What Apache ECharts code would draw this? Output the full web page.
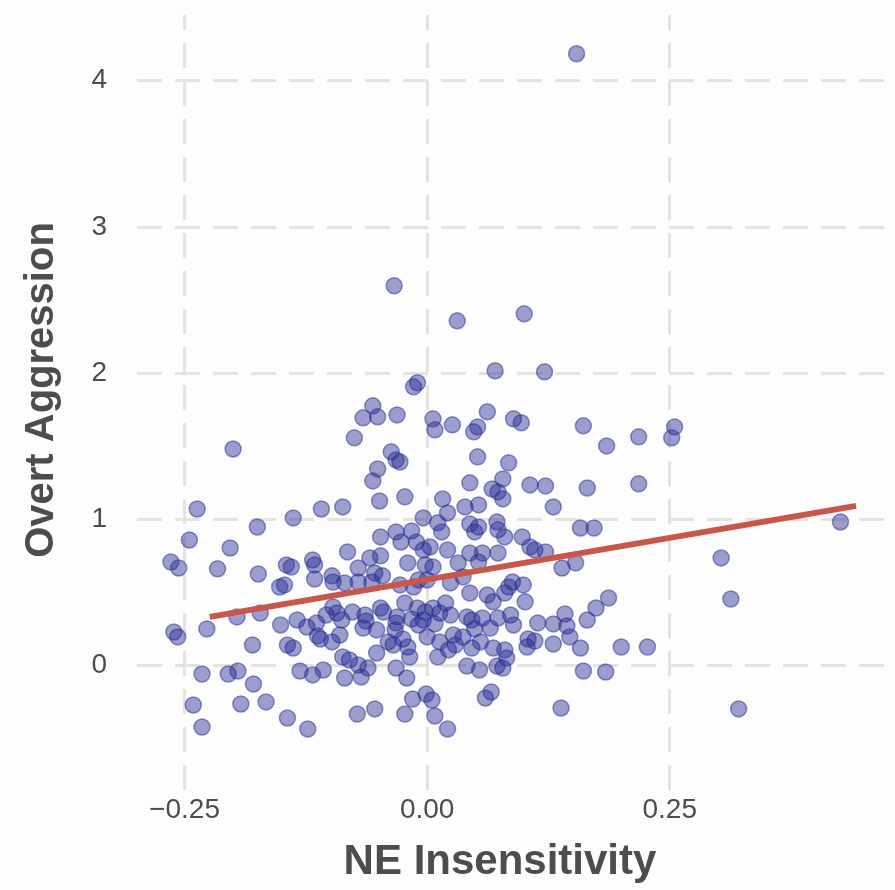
<!DOCTYPE html>
<html><head><meta charset="utf-8">
<script src="https://cdn.jsdelivr.net/npm/echarts@6/dist/echarts.min.js"></script>
<style>html,body{margin:0;padding:0;background:#fdfdfd}#c{width:895px;height:890px}</style>
</head><body><div id="c"></div>
<script>
const neInsensitivity = [
  0.154,-0.034,0.031,0.100,0.070,0.121,-0.010,-0.014,-0.056,-0.066,
  -0.051,-0.031,-0.075,-0.037,-0.032,-0.028,-0.051,-0.056,-0.023,-0.049,
  -0.087,-0.109,-0.138,-0.004,-0.048,-0.032,-0.016,-0.027,-0.011,-0.004,
  -0.082,-0.059,-0.048,-0.118,-0.200,-0.237,-0.175,-0.245,-0.203,-0.264,
  -0.256,-0.216,-0.174,-0.145,-0.140,-0.152,-0.147,-0.196,-0.172,-0.134,
  -0.261,-0.257,-0.227,-0.151,-0.180,-0.144,-0.138,-0.232,-0.205,-0.195,
  -0.131,-0.179,-0.241,-0.192,-0.166,-0.232,-0.144,-0.020,-0.002,-0.116,
  -0.116,-0.071,-0.054,-0.046,-0.098,-0.097,-0.085,-0.071,-0.057,-0.028,
  -0.014,-0.009,0.000,-0.097,-0.093,-0.088,-0.104,-0.077,-0.064,-0.063,
  -0.066,-0.052,-0.048,-0.045,-0.031,-0.032,-0.033,-0.023,-0.016,-0.009,
  -0.010,-0.002,-0.124,-0.114,-0.113,-0.110,-0.098,-0.090,-0.052,-0.040,
  -0.035,-0.025,-0.020,-0.018,0.000,-0.087,-0.080,-0.071,-0.061,-0.068,
  -0.118,-0.107,-0.085,-0.032,-0.021,-0.015,-0.001,-0.072,-0.054,-0.023,
  -0.123,0.062,0.089,0.097,0.006,0.008,0.026,0.052,0.048,0.052,
  0.084,0.044,0.078,0.067,0.073,0.078,0.106,0.122,0.016,0.021,
  0.039,0.053,0.130,0.011,0.015,0.044,0.053,0.049,0.072,0.073,
  0.080,0.098,0.003,0.021,0.044,0.057,0.073,0.106,0.111,0.122,
  0.006,0.032,0.053,0.024,0.037,0.044,0.062,0.068,0.084,0.088,
  0.099,0.080,0.101,0.006,0.019,0.013,0.024,-0.004,0.008,0.041,
  0.046,0.057,0.073,0.086,0.089,0.049,0.065,0.114,0.130,0.013,
  0.027,0.037,0.029,0.022,0.011,0.046,0.055,0.068,0.080,0.082,
  0.104,0.111,0.103,0.130,0.041,0.054,0.072,0.078,0.005,0.060,
  0.066,0.008,0.021,0.138,0.161,0.185,0.218,0.255,0.252,0.165,
  0.218,0.158,0.172,0.139,0.153,0.187,0.174,0.165,0.142,0.144,
  0.147,0.158,0.200,0.227,0.161,0.184,0.426,0.303,0.313,0.321
];
const overtAggression = [
  4.185,2.596,2.356,2.404,2.014,2.007,1.932,1.904,1.774,1.692,
  1.699,1.712,1.555,1.459,1.404,1.390,1.342,1.260,1.151,1.123,
  1.082,1.068,1.007,1.007,0.877,0.911,0.918,0.842,0.842,0.788,
  0.774,0.733,0.747,0.719,1.479,1.068,0.945,0.856,0.801,0.705,
  0.664,0.658,0.623,0.685,0.671,0.534,0.548,0.329,0.356,0.308,
  0.226,0.192,0.247,0.274,0.137,0.137,0.116,-0.062,-0.062,-0.041,
  -0.041,-0.130,-0.274,-0.267,-0.253,-0.425,-0.363,0.699,0.685,0.685,
  0.589,0.664,0.630,0.610,0.610,0.568,0.562,0.568,0.568,0.548,
  0.534,0.582,0.582,0.397,0.356,0.308,0.342,0.363,0.342,0.301,
  0.253,0.240,0.390,0.363,0.329,0.288,0.240,0.425,0.315,0.274,
  0.390,0.363,0.260,0.288,0.199,0.178,0.158,0.205,0.082,0.158,
  0.137,0.178,0.123,0.055,0.192,0.055,0.034,0.000,-0.021,-0.082,
  -0.068,-0.034,-0.089,-0.021,-0.089,-0.233,-0.199,-0.336,-0.301,-0.336,
  -0.438,1.733,1.685,1.658,1.685,1.610,1.644,1.630,1.596,1.425,
  1.384,1.247,1.274,1.205,1.185,1.137,1.233,1.226,1.137,1.041,
  1.082,1.096,1.082,0.973,0.911,0.966,0.945,0.911,0.979,0.925,
  0.877,0.877,0.808,0.788,0.767,0.767,0.767,0.808,0.788,0.774,
  0.671,0.699,0.705,0.562,0.603,0.493,0.479,0.432,0.534,0.568,
  0.548,0.493,0.432,0.390,0.425,0.356,0.342,0.308,0.281,0.329,
  0.308,0.322,0.322,0.342,0.274,0.247,0.253,0.288,0.281,0.158,
  0.205,0.192,0.137,0.103,0.055,0.116,0.158,0.116,0.103,0.048,
  0.178,0.164,0.123,0.144,-0.007,-0.034,-0.007,-0.021,-0.240,-0.226,
  -0.185,-0.349,-0.438,-0.295,1.637,1.500,1.562,1.630,1.555,1.212,
  1.240,0.938,0.938,0.664,0.699,0.459,0.390,0.308,0.349,0.267,
  0.192,0.116,0.123,0.123,-0.041,-0.048,0.979,0.733,0.452,-0.301
];
const fitX = [-0.224, 0.442];
const fitY = [0.329, 1.089];
const xTicks = [-0.25, 0, 0.25];
const xTickLabels = ['\u22120.25', '0.00', '0.25'];
const yTicks = [0, 1, 2, 3, 4];
const yTickLabels = ['0', '1', '2', '3', '4'];
const xTitle = 'NE Insensitivity';
const yTitle = 'Overt Aggression';

const points = neInsensitivity.map((x, i) => [x, overtAggression[i]]);
const fitLine = fitX.map((x, i) => [x, fitY[i]]);
const font = "'Liberation Sans', Arial, Helvetica, sans-serif";
const textCol = '#4d4d4d';
const gridCol = '#e6e2de';
function lbl(ticks, labels) {
  return v => {
    let best = 0;
    ticks.forEach((t, i) => { if (Math.abs(t - v) < Math.abs(ticks[best] - v)) best = i; });
    return labels[best];
  };
}
const chart = echarts.init(document.getElementById('c'), null, {renderer: 'canvas'});
chart.setOption({
  backgroundColor: '#fdfdfd',
  animation: false,
  grid: {left: 137, right: 5, top: 15, bottom: 100, containLabel: false},
  xAxis: {
    type: 'value', min: -0.299, max: 0.477,
    axisLine: {show: false}, axisTick: {show: false, customValues: xTicks}, splitLine: {show: false},
    axisLabel: {customValues: xTicks, formatter: lbl(xTicks, xTickLabels), fontSize: 28, color: textCol, fontFamily: font, margin: 6}
  },
  yAxis: {
    type: 'value', min: -0.856, max: 4.45,
    axisLine: {show: false}, axisTick: {show: false, customValues: yTicks}, splitLine: {show: false},
    axisLabel: {customValues: yTicks, formatter: lbl(yTicks, yTickLabels), fontSize: 28, color: textCol, fontFamily: font, margin: 30}
  },
  graphic: [
    {type: 'text', x: 500, y: 862, z: 10,
     style: {text: xTitle, align: 'center', verticalAlign: 'middle', fontSize: 42, fontWeight: 'bold', fontFamily: font, fill: textCol}},
    {type: 'text', x: 42, y: 390, rotation: Math.PI / 2, z: 10,
     style: {text: yTitle, align: 'center', verticalAlign: 'middle', fontSize: 40, fontWeight: 'bold', fontFamily: font, fill: textCol}}
  ],
  series: [
    {
      type: 'line', data: [], silent: true, z: 0,
      markLine: {
        silent: true, symbol: 'none', z: 0, animation: false,
        label: {show: false},
        lineStyle: {color: gridCol, width: 3, type: [25, 13]},
        data: xTicks.map(v => ({xAxis: v})).concat(yTicks.map(v => ({yAxis: v})))
      }
    },
    {
      type: 'scatter', data: points, symbolSize: 16, z: 2,
      itemStyle: {color: 'rgba(40,46,148,0.46)', borderColor: 'rgba(40,46,148,0.5)', borderWidth: 1.5, opacity: 1}
    },
    {
      type: 'line', data: fitLine, symbol: 'none', z: 3,
      lineStyle: {color: '#c9564b', width: 6, cap: 'butt'}
    }
  ]
});
</script></body></html>
